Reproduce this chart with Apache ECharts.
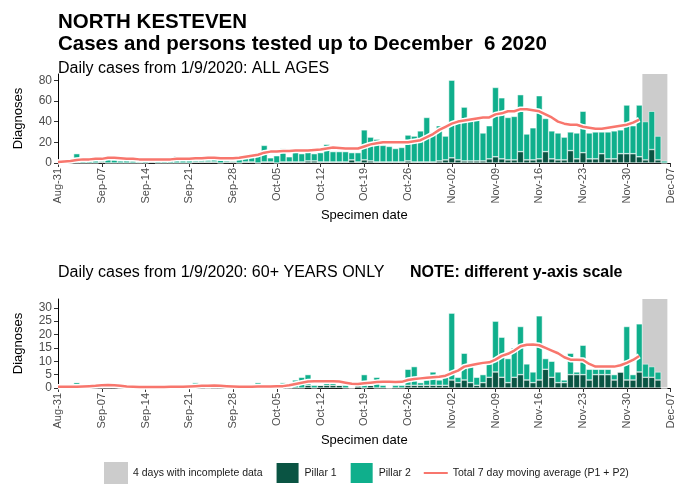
<!DOCTYPE html>
<html>
<head>
<meta charset="utf-8">
<script src="https://cdn.jsdelivr.net/npm/echarts@6/dist/echarts.min.js"></script>
<style>
html,body{margin:0;padding:0;background:#fff;}
#chart{width:676px;height:485px;}
</style>
</head>
<body>
<div id="chart"></div>
<script>
// ---------- categories ----------
const monthSpans = [['Aug', 31, 31], ['Sep', 1, 30], ['Oct', 1, 31], ['Nov', 1, 30], ['Dec', 1, 7]];
const dates = [];
monthSpans.forEach(([m, a, b]) => { for (let d = a; d <= b; d++) dates.push(m + '-' + String(d).padStart(2, '0')); });

const tickLabels = ['Aug-31','Sep-07','Sep-14','Sep-21','Sep-28','Oct-05','Oct-12','Oct-19','Oct-26','Nov-02','Nov-09','Nov-16','Nov-23','Nov-30','Dec-07'];
const incompleteDays = ['Dec-03','Dec-04','Dec-05','Dec-06'];

const topYTicks = [0, 20, 40, 60, 80];
const bottomYTicks = [0, 5, 10, 15, 20, 25, 30];

// ---------- ALL AGES (Aug-31 .. Dec-06) ----------
const allPillar1 = [null,
  0,0,0,0,0,0,1,0,0,0,0,0,0,0,
  1,0,0,0,0,0,0,1,1,1,1,0,1,1,0,1,
  1,0,1,1,0,1,1,1,1,2,2,1,1,1,1,1,
  3,1,3,2,1,1,1,1,1,2,1,1,1,1,2,3,
  5,3,2,2,2,2,4,6,4,3,3,11,3,3,4,11,
  4,3,3,12,4,10,4,4,9,4,4,9,9,9,6,3,
  13,3,0];
const allPillar2 = [null,
  1,2,9,2,2,3,2,5,3,2,3,2,1,2,
  2,2,2,3,7,3,3,3,6,2,3,3,2,1,4,7,
  8,10,16,4,7,13,5,13,8,12,7,9,17,10,10,10,
  7,9,29,23,22,16,15,13,14,25,25,30,43,29,34,23,
  75,38,52,39,40,27,32,67,59,41,42,55,25,31,61,32,
  27,26,22,18,25,40,25,26,21,26,27,23,47,27,50,37,
  37,23,2];
const allAverage = [
  1,1.5,2,3,3.5,3.5,4,4,5,5,4.5,4,4,3.5,3.5,
  3.5,3.5,3.5,3.5,4,4,4,4.5,4.5,5,5,4.5,4.5,4.5,5,6,
  7,8,10,11,11,11.5,11.5,12,12,12,12.5,13,14,15,14.5,14,
  14,14,16,18,19,20,20,20,20,20,21,22,25,28,32,35,
  38,40,41,42,43,44,44,47,48,50,50,52,52,51,50,47,
  44,40,38,37,37,35,34,33,33,34,35,36,37,39,42];

// ---------- 60+ YEARS ONLY ----------
const oldPillar1 = [null,
  0,0,0,0,0,0,0,0,0,0,0,0,0,0,
  0,0,0,0,0,0,0,0,0,0,0,0,0,0,0,0,
  0,0,0,0,0,0,0,0,0,1,0,1,1,1,1,0,
  0,1,0,1,0,0,0,0,0,1,1,1,1,1,1,1,
  3,2,3,2,1,2,4,6,4,2,4,5,3,2,3,7,
  4,2,2,5,5,5,3,5,5,5,3,6,3,3,6,4,
  4,3,0];
const oldPillar2 = [null,
  0,0,2,0,0,1,1,1,1,0,0,0,0,0,
  0,0,1,0,0,0,0,2,1,0,1,1,0,0,0,0,
  1,2,0,0,1,2,0,3,4,4,1,0,1,1,0,1,
  0,0,5,0,4,1,0,1,1,6,7,1,2,5,2,3,
  25,2,10,6,3,3,5,19,15,9,11,18,6,4,24,4,
  6,4,1,8,1,11,4,2,2,2,2,0,20,2,18,5,
  4,3,0];
const oldAverage = [
  0.5,0.5,0.5,0.5,0.6,0.7,0.8,1,1.1,1,0.8,0.6,0.5,0.4,0.4,
  0.4,0.4,0.4,0.5,0.5,0.5,0.6,0.7,0.8,0.8,0.9,0.8,0.7,0.6,0.5,0.5,
  0.5,0.6,0.6,0.6,0.7,0.7,1,1.5,2,2.4,2.5,2.5,2.5,2.5,2.4,2,
  1.6,1.5,1.8,2,2.2,2.3,2.3,2.2,2.3,3,3.4,3.6,3.8,4,4.2,4.6,
  5.6,6.5,8,8.5,9,9.4,9.6,10.6,12,12.8,14,15.6,16.2,16.3,16,15,
  14,13,11.5,10.6,10.6,10.5,9,8,8,8,8,8.5,9.4,10.5,12];

// ---------- styling ----------
const FONT = "'Liberation Sans', Arial, sans-serif";
const C_GREY = '#CCCCCC', C_P1 = '#0A5443', C_P2 = '#0FAF8C', C_LINE = '#F8766D';
const NAME_GREY = '4 days with incomplete data', NAME_P1 = 'Pillar 1', NAME_P2 = 'Pillar 2', NAME_AVG = 'Total 7 day moving average (P1 + P2)';
const TOP_MAX = 86, BOTTOM_MAX = 33.3;

function xAxisFor(gridIndex) {
  return {
    type: 'category', gridIndex, data: dates, boundaryGap: false,
    name: 'Specimen date', nameLocation: 'middle', nameGap: 46,
    nameTextStyle: { fontFamily: FONT, fontSize: 13, color: '#000' },
    axisLine: { lineStyle: { color: '#000', width: 1 } },
    axisTick: { interval: (i, v) => tickLabels.includes(v), length: 4, lineStyle: { color: '#333' } },
    axisLabel: { interval: (i, v) => tickLabels.includes(v), rotate: 90, margin: 5, fontFamily: FONT, fontSize: 11, color: '#4d4d4d' },
    splitLine: { show: false }
  };
}
function yAxisFor(gridIndex, max, ticks) {
  return {
    type: 'value', gridIndex, min: 0, max, interval: ticks[1] - ticks[0],
    name: 'Diagnoses', nameLocation: 'middle', nameGap: 33, nameRotate: 90,
    nameTextStyle: { fontFamily: FONT, fontSize: 13, color: '#000' },
    axisLine: { show: true, lineStyle: { color: '#000', width: 1 } },
    axisTick: { show: true, length: 4, customValues: ticks, lineStyle: { color: '#333' } },
    axisLabel: { customValues: ticks, margin: 6, fontFamily: FONT, fontSize: 12, color: '#4d4d4d' },
    splitLine: { show: false }
  };
}
function panelSeries(idx, p1, p2, avg, max) {
  const greyRange = [[dates.indexOf(incompleteDays[0]), dates.indexOf(incompleteDays[incompleteDays.length - 1]), max]];
  return [
    { type: 'custom', name: NAME_GREY, xAxisIndex: idx, yAxisIndex: idx, data: greyRange, silent: true,
      encode: { x: [0, 1], y: 2 }, itemStyle: { color: C_GREY },
      renderItem: (params, api) => {
        const top = api.coord([api.value(0), api.value(2)]);
        const bot = api.coord([api.value(1), 0]);
        const half = api.size([1, 0])[0] / 2;
        return { type: 'rect', shape: { x: top[0] - half, y: top[1], width: bot[0] - top[0] + 2 * half, height: bot[1] - top[1] },
          style: { fill: C_GREY } };
      } },
    { type: 'bar', name: NAME_P1, stack: 'cases' + idx, data: p1, xAxisIndex: idx, yAxisIndex: idx, barCategoryGap: '0%',
      itemStyle: { color: C_P1, borderColor: '#fff', borderWidth: 0.5 } },
    { type: 'bar', name: NAME_P2, stack: 'cases' + idx, data: p2, xAxisIndex: idx, yAxisIndex: idx, barCategoryGap: '0%',
      itemStyle: { color: C_P2, borderColor: '#fff', borderWidth: 0.5 } },
    { type: 'line', name: 'halo' + idx, xAxisIndex: idx, yAxisIndex: idx, data: avg, symbol: 'none', silent: true,
      lineStyle: { color: '#fff', width: 5.5 } },
    { type: 'line', name: NAME_AVG, xAxisIndex: idx, yAxisIndex: idx, data: avg, symbol: 'none', silent: true,
      itemStyle: { color: C_LINE }, lineStyle: { color: C_LINE, width: 2.5 } }
  ];
}

const chart = echarts.init(document.getElementById('chart'), null, { renderer: 'canvas' });
chart.setOption({
  backgroundColor: '#fff',
  animation: false,
  title: [
    { text: 'NORTH KESTEVEN', left: 58, top: 12, padding: 0,
      textStyle: { fontFamily: FONT, fontSize: 20.5, fontWeight: 'bold', color: '#000' } },
    { text: 'Cases and persons tested up to December  6 2020', left: 58, top: 34, padding: 0,
      textStyle: { fontFamily: FONT, fontSize: 20.5, fontWeight: 'bold', color: '#000' } },
    { text: 'Daily cases from 1/9/2020: ALL AGES', left: 58, top: 61, padding: 0,
      textStyle: { fontFamily: FONT, fontSize: 16, fontWeight: 'normal', color: '#000' } },
    { text: 'Daily cases from 1/9/2020: 60+ YEARS ONLY', left: 58, top: 265, padding: 0,
      textStyle: { fontFamily: FONT, fontSize: 16, fontWeight: 'normal', color: '#000' } },
    { text: 'NOTE: different y-axis scale', left: 410, top: 265, padding: 0,
      textStyle: { fontFamily: FONT, fontSize: 16, fontWeight: 'bold', color: '#000' } }
  ],
  legend: {
    left: 104, top: 461, itemWidth: 24, itemHeight: 22, itemGap: 12, padding: 0,
    textStyle: { fontFamily: FONT, fontSize: 10.5, color: '#1a1a1a' },
    data: [
      { name: NAME_GREY, icon: 'rect' },
      { name: NAME_P1, icon: 'rect' },
      { name: NAME_P2, icon: 'rect' },
      { name: NAME_AVG, itemStyle: { opacity: 0 } }
    ]
  },
  grid: [
    { left: 58, right: 3, top: 74, height: 89 },
    { left: 58, right: 3, top: 299, height: 89 }
  ],
  xAxis: [xAxisFor(0), xAxisFor(1)],
  yAxis: [yAxisFor(0, TOP_MAX, topYTicks), yAxisFor(1, BOTTOM_MAX, bottomYTicks)],
  series: [].concat(
    panelSeries(0, allPillar1, allPillar2, allAverage, TOP_MAX),
    panelSeries(1, oldPillar1, oldPillar2, oldAverage, BOTTOM_MAX)
  )
});
</script>
</body>
</html>
